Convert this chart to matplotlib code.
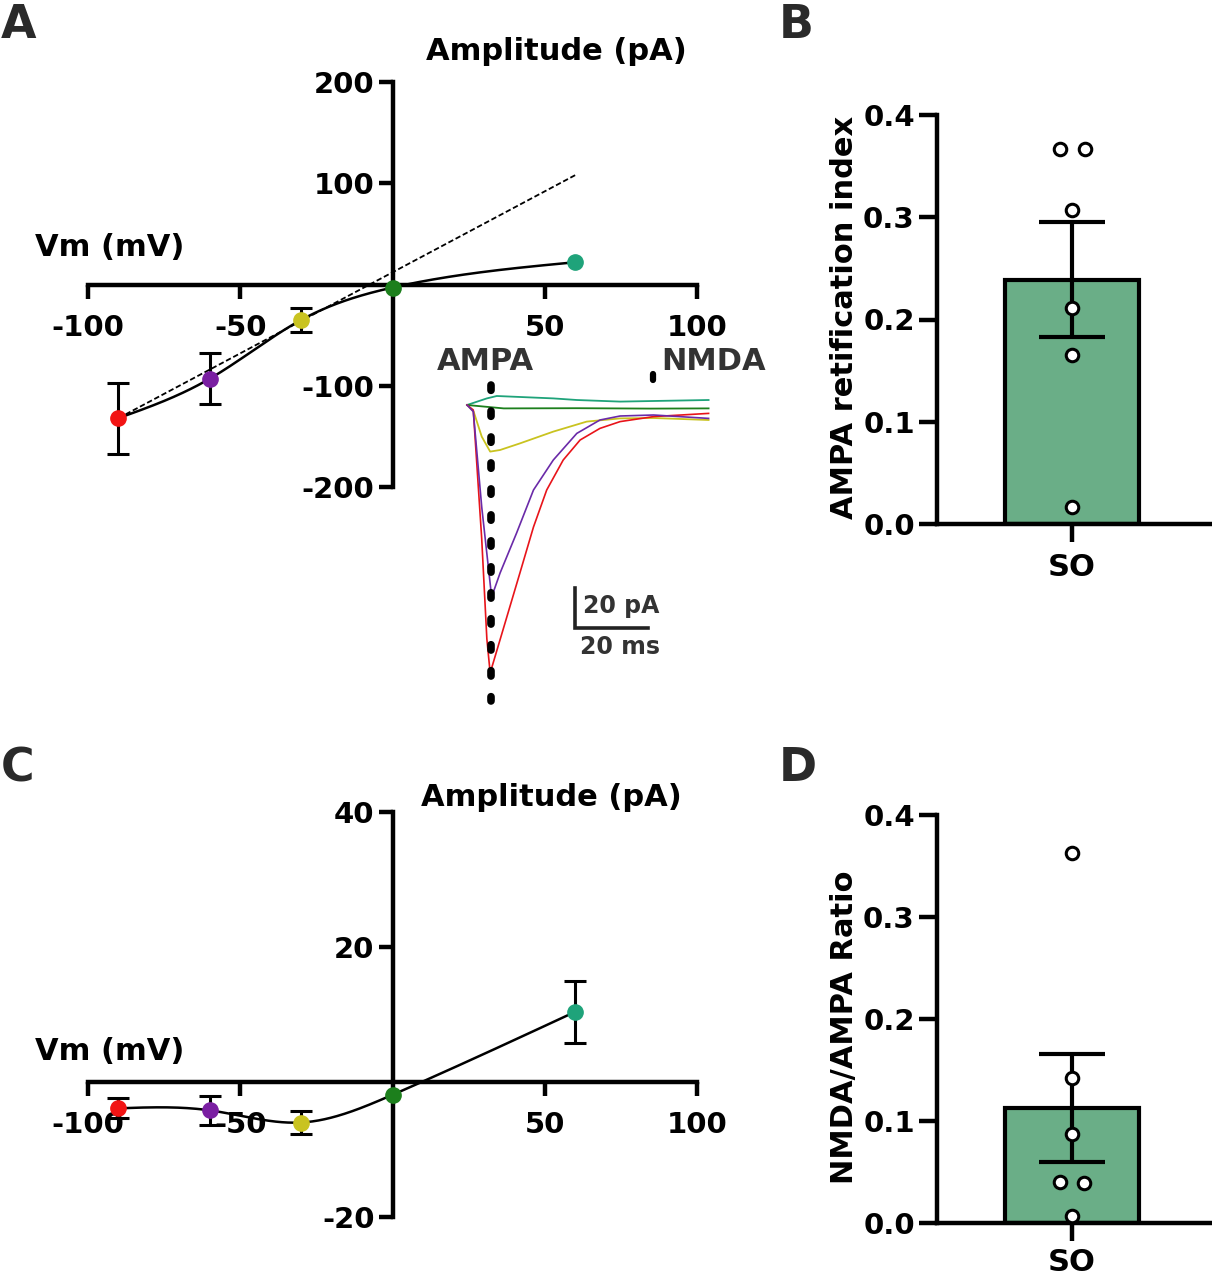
import matplotlib
matplotlib.use("Agg")
import matplotlib.pyplot as plt
import numpy as np

plt.rcParams['font.family'] = ['DejaVu Sans']
plt.rcParams['font.weight'] = 'bold'
plt.rcParams['axes.unicode_minus'] = False

# ---- data ----
vm = [-90, -60, -30, 0, 60]
dot_colors = ['#f21414', '#7a1fa2', '#c9c320', '#1c7f1c', '#1fa37a']

ampa_amp = [-132, -93, -35, -3, 22]
ampa_err = [35, 25, 12, 0, 0]
ampa_fit_x = [-90, 60]          # linear extrapolation (dashed)
ampa_fit_y = [-132, 108]

nmda_amp = [-3.9, -4.2, -6.0, -1.9, 10.4]
nmda_err = [1.5, 2.1, 1.7, 0, 4.6]

# example traces (time ms, current pA)
red_t = [0, 1.7, 4.0, 5.4, 6.3, 14.4, 18.1, 21.7, 26.2, 30.8, 36.2, 41.7, 50.8, 65.8]
red_i = [0, -2.5, -67, -117, -134, -84, -61, -42.5, -27.5, -17.5, -11.7, -8.3, -5.8, -4.2]
pur_t = [0, 1.7, 4.0, 6.7, 9.0, 13.5, 18.1, 23.5, 29.9, 36.2, 41.7, 50.8, 65.8]
pur_i = [0, -3.3, -51, -96, -84, -64, -42.5, -27.5, -14.2, -7.5, -5.5, -5.0, -6.7]
yel_t = [0, 1.8, 4.0, 6.3, 9.0, 14.4, 23.5, 32.6, 41.7, 50.8, 65.8]
yel_i = [0, -3.3, -15.8, -23.3, -22.5, -19.2, -13.3, -8.3, -6.7, -6.5, -7.5]
teal_t = [0, 5.4, 8.1, 23.5, 29.9, 41.7, 65.8]
teal_i = [0, 3.3, 4.5, 3.3, 2.5, 1.7, 2.5]
grn_t = [0, 10, 30, 50, 65.8]
grn_i = [0, -1.7, -1.6, -1.8, -1.7]
ampa_time = 6.5
nmda_time = 50.7

# bar panels
ri_mean, ri_sem = 0.239, 0.056
ri_pts = [0.367, 0.367, 0.307, 0.211, 0.165, 0.017]
ri_jit = [-0.045, 0.049, 0, 0, 0, 0]
nr_mean, nr_sem = 0.113, 0.053
nr_pts = [0.363, 0.142, 0.087, 0.040, 0.039, 0.007]
nr_jit = [0, 0, 0, -0.045, 0.045, 0]
bar_color = '#6aae87'


def smooth_curve(x, y, n=300):
    # natural cubic spline used only to draw the connecting line
    x = np.asarray(x, float); y = np.asarray(y, float)
    h = np.diff(x)
    m = len(x)
    A = np.zeros((m, m)); b = np.zeros(m)
    A[0, 0] = A[-1, -1] = 1
    for i in range(1, m - 1):
        A[i, i - 1] = h[i - 1]; A[i, i] = 2 * (h[i - 1] + h[i]); A[i, i + 1] = h[i]
        b[i] = 6 * ((y[i + 1] - y[i]) / h[i] - (y[i] - y[i - 1]) / h[i - 1])
    M = np.linalg.solve(A, b)
    xs = np.linspace(x[0], x[-1], n)
    k = np.clip(np.searchsorted(x, xs) - 1, 0, m - 2)
    t1 = x[k + 1] - xs; t0 = xs - x[k]
    ys = (M[k] * t1**3 + M[k + 1] * t0**3) / (6 * h[k]) \
        + (y[k] / h[k] - M[k] * h[k] / 6) * t1 + (y[k + 1] / h[k] - M[k + 1] * h[k] / 6) * t0
    return xs, ys


def iv_axes(ax, ylim, yticks):
    ax.set_xlim(-100, 100)
    ax.set_ylim(*ylim)
    for s in ['top', 'right']:
        ax.spines[s].set_visible(False)
    ax.spines['left'].set_position(('data', 0))
    ax.spines['bottom'].set_position(('data', 0))
    for s in ['left', 'bottom']:
        ax.spines[s].set_linewidth(3.2)
    ax.set_xticks([-100, -50, 50, 100])
    ax.set_yticks(yticks)
    ax.tick_params(axis='both', direction='out', length=10, width=3.2, labelsize=21)
    ax.tick_params(axis='x', pad=11)
    ax.tick_params(axis='y', pad=3)
    ax.patch.set_alpha(0)


def pt_axes(ax, label, ylab_y):
    for s in ['top', 'right']:
        ax.spines[s].set_visible(False)
    for s in ['left', 'bottom']:
        ax.spines[s].set_linewidth(3.2)
    ax.set_ylim(0, 0.4)
    ax.set_xlim(-0.504, 0.515)
    ax.set_yticks([0, 0.1, 0.2, 0.3, 0.4])
    ax.set_yticklabels(['0.0', '0.1', '0.2', '0.3', '0.4'])
    ax.set_xticks([0])
    ax.set_xticklabels(['SO'])
    ax.tick_params(axis='both', direction='out', length=13, width=3.2, labelsize=21)
    ax.tick_params(axis='y', pad=3)
    ax.tick_params(axis='x', labelsize=22, pad=8)
    ax.spines['left'].set_bounds(0, 0.4)
    ax.set_ylabel(label, fontsize=22, fontweight='bold')
    ax.yaxis.set_label_coords(-0.285, ylab_y)


fig = plt.figure(figsize=(12.12, 12.8), dpi=100)
W, H = 1212, 1280


def px_axes(x0, y0, x1, y1):
    return fig.add_axes([x0 / W, 1 - y1 / H, (x1 - x0) / W, (y1 - y0) / H])


# ---------------- Panel A ----------------
axA = px_axes(88, 82, 697, 487)
iv_axes(axA, (-200, 200), [-200, -100, 100, 200])
axA.plot(ampa_fit_x, ampa_fit_y, color='black', lw=1.3, ls=(0, (3, 1.5)), zorder=2)
cx, cy = smooth_curve(vm, ampa_amp)
axA.plot(cx, cy, color='black', lw=1.8, zorder=3)
for x, y, e, c in zip(vm, ampa_amp, ampa_err, dot_colors):
    if e > 0:
        axA.errorbar(x, y, yerr=e, fmt='none', ecolor='black', elinewidth=2.2,
                     capsize=8, capthick=2.2, zorder=4)
    axA.plot(x, y, 'o', color=c, ms=11, zorder=5)
fig.text(35 / W, 1 - 248 / H, 'Vm (mV)', fontsize=22, ha='left', va='center')
fig.text(556 / W, 1 - 52 / H, 'Amplitude (pA)', fontsize=22, ha='center', va='center')

# inset traces
axT = px_axes(459.7, 365, 724, 705)
axT.set_xlim(-2, 70)
axT.set_ylim(-150, 20)
axT.axis('off')
axT.plot(teal_t, teal_i, color='#1fa37a', lw=1.3)
axT.plot(grn_t, grn_i, color='#1c7f1c', lw=1.3)
axT.plot(yel_t, yel_i, color='#c9c320', lw=1.3)
axT.plot(red_t, red_i, color='#e8141a', lw=1.2)
axT.plot(pur_t, pur_i, color='#6a2aa8', lw=1.2)
axT.plot([ampa_time, ampa_time], [10, -148], color='black', lw=5.5,
         ls=(0, (0.7, 2.7)), solid_capstyle='round', dash_capstyle='round')
axT.plot([nmda_time, nmda_time], [15.5, 12.5], color='black', lw=4.5,
         solid_capstyle='round')
axT.plot([29.4, 29.4, 49.4], [-91.5, -111.5, -111.5], color='#222222', lw=2.6,
         solid_joinstyle='miter')
fig.text(583 / W, 1 - 606 / H, '20 pA', fontsize=17, color='#333333', ha='left', va='center')
fig.text(620 / W, 1 - 647 / H, '20 ms', fontsize=17, color='#333333', ha='center', va='center')
fig.text(485 / W, 1 - 361 / H, 'AMPA', fontsize=22, color='#333333', ha='center', va='center')
fig.text(661 / W, 1 - 361 / H, 'NMDA', fontsize=22, color='#333333', ha='left', va='center')

# ---------------- Panel C ----------------
axC = px_axes(88, 812, 697, 1217)
iv_axes(axC, (-20, 40), [-20, 20, 40])
cx, cy = smooth_curve(vm, nmda_amp)
axC.plot(cx, cy, color='black', lw=1.8, zorder=3)
for x, y, e, c in zip(vm, nmda_amp, nmda_err, dot_colors):
    if e > 0:
        axC.errorbar(x, y, yerr=e, fmt='none', ecolor='black', elinewidth=2.2,
                     capsize=8, capthick=2.2, zorder=4)
    axC.plot(x, y, 'o', color=c, ms=11, zorder=5)
fig.text(35 / W, 1 - 1052 / H, 'Vm (mV)', fontsize=22, ha='left', va='center')
fig.text(551 / W, 1 - 797 / H, 'Amplitude (pA)', fontsize=22, ha='center', va='center')

# ---------------- Panel B ----------------
axB = px_axes(937, 115, 1210, 524)
axB.bar([0], [ri_mean], width=0.5, color=bar_color, edgecolor='black', linewidth=3, zorder=2)
axB.errorbar([0], [ri_mean], yerr=ri_sem, fmt='none', ecolor='black', elinewidth=3,
             capsize=24, capthick=3, zorder=3)
axB.plot(ri_jit, ri_pts, 'o', mfc='white', mec='black', ms=9, mew=2.2, zorder=4)
pt_axes(axB, 'AMPA retification index', 0.504)

# ---------------- Panel D ----------------
axD = px_axes(937, 815, 1210, 1223)
axD.bar([0], [nr_mean], width=0.5, color=bar_color, edgecolor='black', linewidth=3, zorder=2)
axD.errorbar([0], [nr_mean], yerr=nr_sem, fmt='none', ecolor='black', elinewidth=3,
             capsize=24, capthick=3, zorder=3)
axD.plot(nr_jit, nr_pts, 'o', mfc='white', mec='black', ms=9, mew=2.2, zorder=4)
pt_axes(axD, 'NMDA/AMPA Ratio', 0.48)
axD.tick_params(axis='x', pad=5)

# panel letters
for x, y, s in [(1, 3, 'A'), (779, 3, 'B'), (1, 746, 'C'), (779, 746, 'D')]:
    fig.text(x / W, 1 - y / H, s, fontsize=33, color='#2a2a2a', ha='left', va='top')

fig.savefig('out.png', dpi=100)
